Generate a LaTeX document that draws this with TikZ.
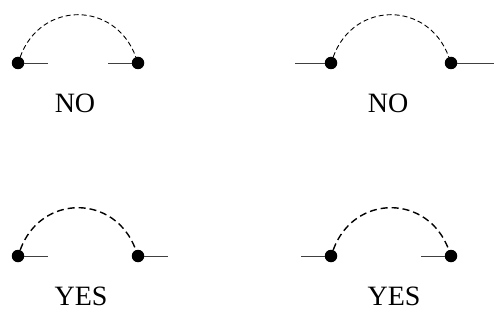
\documentclass[tikz,border=0pt]{standalone}
\usepackage{fontspec}
\setmainfont{Liberation Serif}
\usetikzlibrary{positioning}

\begin{document}
\begin{tikzpicture}[
  x=1pt,y=-1pt,
  dot/.style={circle,fill=black,inner sep=0pt,minimum size=12.5pt},
  lead/.style={line width=0.9pt,black!75},
  bridge/.style={line width=0.9pt,dash pattern=on 5pt off 3pt},
  boldbridge/.style={line width=1.4pt,dash pattern=on 7pt off 4pt},
  hump/.style={out=70,in=110,looseness=1.33},
  verdict/.style={inner sep=0pt,font=\fontsize{28}{32}\selectfont}
]
  \useasboundingbox (0,0) rectangle (494,331);

  % top left: NO
  \node[dot] (tla) at (18,63) {};
  \node[dot] (tlb) at (138,63) {};
  \coordinate (tlaend) at (48,63);
  \coordinate (tlbend) at (108,63);
  \draw[lead] (tla) -- (tlaend);
  \draw[lead] (tlbend) -- (tlb);
  \draw[bridge] (tla) to[hump] (tlb);
  \node[verdict] (tlno) at (75,103) {NO};

  % top right: NO
  \node[dot] (tra) at (331,63) {};
  \node[dot] (trb) at (451,63) {};
  \coordinate (traend) at (295,63);
  \coordinate (trbend) at (494,63);
  \draw[lead] (traend) -- (tra);
  \draw[lead] (trb) -- (trbend);
  \draw[bridge] (tra) to[hump] (trb);
  \node[verdict] (trno) at (388,103) {NO};

  % bottom left: YES
  \node[dot] (bla) at (18,256) {};
  \node[dot] (blb) at (138,256) {};
  \coordinate (blaend) at (48,256);
  \coordinate (blbend) at (168,256);
  \draw[lead] (bla) -- (blaend);
  \draw[lead] (blb) -- (blbend);
  \draw[boldbridge] (bla) to[hump] (blb);
  \node[verdict] (blyes) at (81,296) {YES};

  % bottom right: YES
  \node[dot] (bra) at (331,256) {};
  \node[dot] (brb) at (451,256) {};
  \coordinate (braend) at (301,256);
  \coordinate (brbend) at (421,256);
  \draw[lead] (braend) -- (bra);
  \draw[lead] (brbend) -- (brb);
  \draw[boldbridge] (bra) to[hump] (brb);
  \node[verdict] (bryes) at (394,296) {YES};
\end{tikzpicture}
\end{document}
